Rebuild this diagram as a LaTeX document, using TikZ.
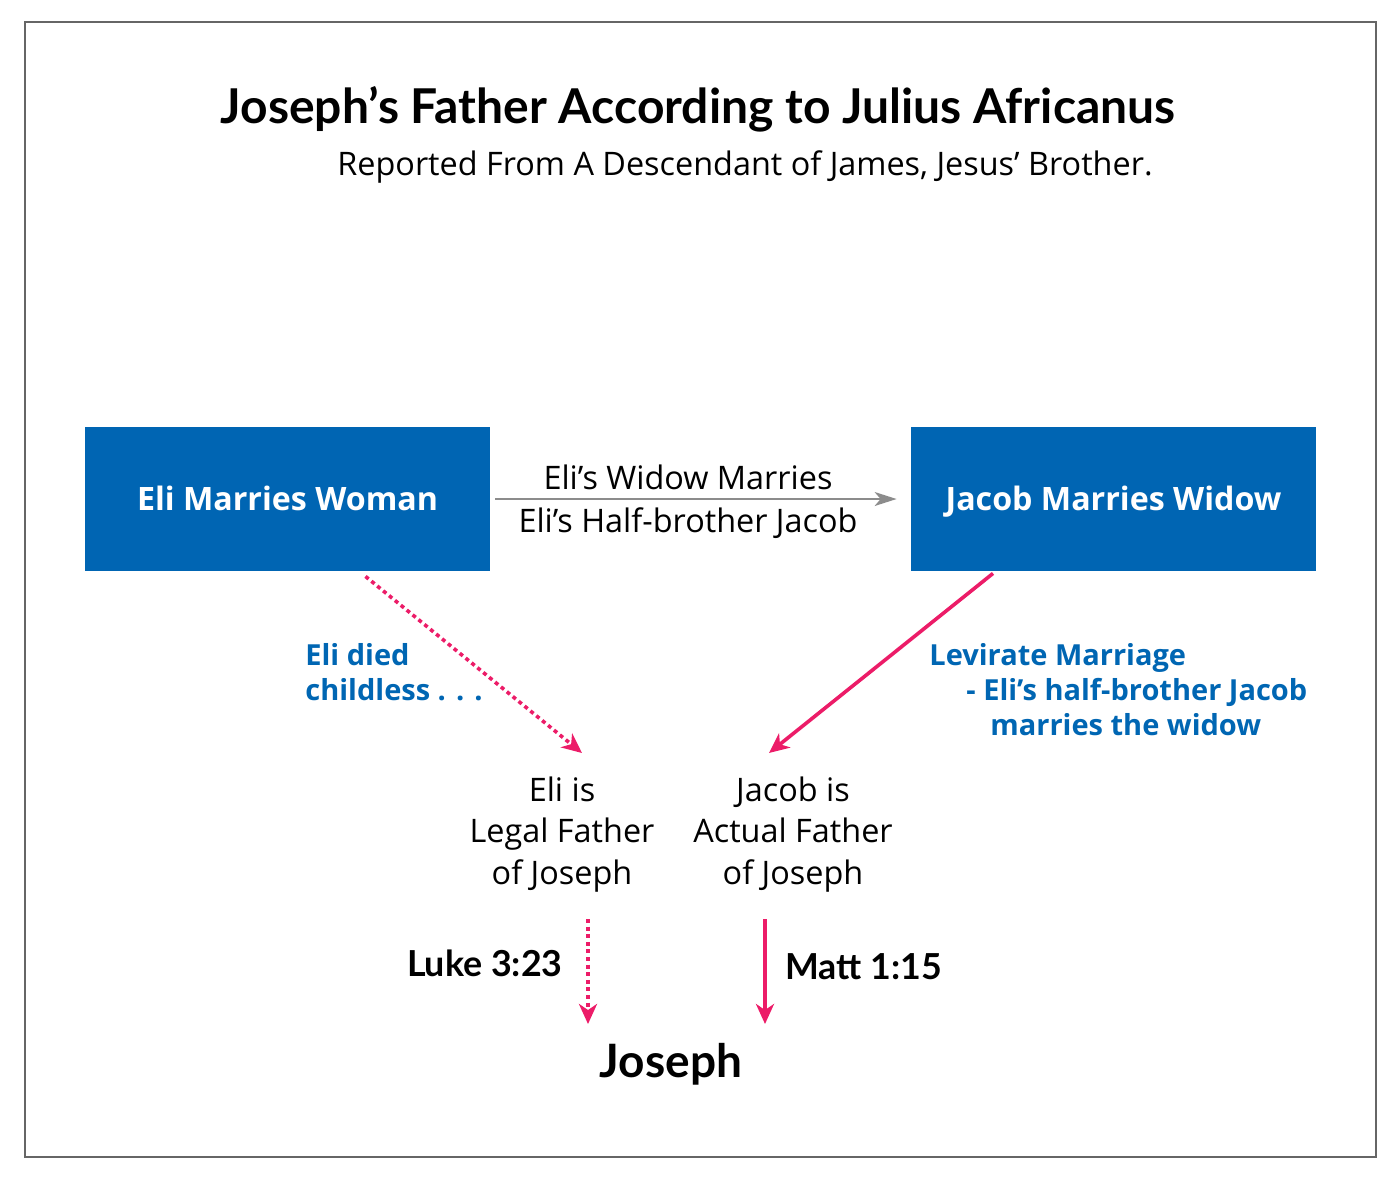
\documentclass[tikz,border=0pt]{standalone}
\usepackage{fontspec}
\setmainfont{Open Sans}
\newfontfamily\latofont{Lato}
\usetikzlibrary{arrows.meta,positioning,calc}
\definecolor{boxblue}{HTML}{0065B3}
\definecolor{arrowpink}{HTML}{EC1C68}
\definecolor{labelblue}{HTML}{0066B3}

\begin{document}
\begin{tikzpicture}[x=0.5pt,y=-0.5pt,
	bluebox/.style={fill=boxblue, text=white, minimum width=202.5pt, minimum height=72pt, inner sep=0pt, text height=14pt, text depth=3pt, font=\fontsize{16.1}{18}\selectfont\bfseries},
	blacktext/.style={font=\fontsize{16.2}{20.75}\selectfont, align=center, inner sep=0pt},
	bluenote/.style={text=labelblue, font=\fontsize{14.5}{17.5}\selectfont\bfseries, align=left, inner sep=0pt},
	verse/.style={font=\latofont\bfseries\fontsize{17.9}{20}\selectfont, inner sep=0pt},
	pinkline/.style={arrowpink, line width=1.8pt, -{Stealth[length=10pt,width=9pt,inset=3pt]}},
	dotline/.style={pinkline, dash pattern=on 2pt off 1.8pt}]
			\useasboundingbox (0,0) rectangle (1400,1179);
			\draw[gray!80!black, line width=0.6pt] (25,22) rectangle (1376,1157);
			\node[anchor=base, inner sep=0pt, font=\latofont\bfseries\fontsize{24}{28}\selectfont] (title) at (698,123) {Joseph’s Father According to Julius Africanus};
			\node[anchor=base, blacktext] (sub) at (745,175) {Reported From A Descendant of James, Jesus’ Brother.};
			\node[bluebox] (eli) at (287.5,499) {Eli Marries Woman};
			\node[bluebox] (jacob) at (1113.5,499) {Jacob Marries Widow};
			\draw[gray!90, line width=0.75pt, -{Stealth[length=11pt,width=7pt,inset=3pt]}, shorten <=2.5pt, shorten >=7pt] (eli) -- (jacob);
			\node[anchor=base, blacktext] (wed1) at (688,489) {Eli’s Widow Marries};
			\node[anchor=base, blacktext] (wed2) at (688,532) {Eli’s Half-brother Jacob};
			\node[anchor=base west, bluenote] (died) at (305,700) {Eli died\\childless . . .};
			\node[anchor=base west, bluenote] (levir) at (929,735) {Levirate Marriage\\\hspace*{18.5pt}- Eli’s half-brother Jacob\\\hspace*{30.5pt}marries the widow};
			\node[anchor=base, blacktext] (legal) at (562,884) {Eli is\\Legal Father\\of Joseph};
			\node[anchor=base, blacktext] (actual) at (793,884) {Jacob is\\Actual Father\\of Joseph};
			\node[anchor=base east, verse] (luke) at (563,976) {Luke 3:23};
			\node[anchor=base west, verse] (matt) at (785,979) {Matt 1:15};
			\node[anchor=base, inner sep=0pt, font=\latofont\bfseries\fontsize{23}{26}\selectfont] (joseph) at (671,1077) {Joseph};
			\coordinate (legaltip) at (582,753);
			\coordinate (actualtip) at (769,753);
			\coordinate (lukeup) at (588,919);
			\coordinate (lukedown) at (588,1024);
			\coordinate (mattup) at (765,919);
			\coordinate (mattdown) at (765,1024);
			\draw[dotline] ($(eli.south)+(78,5)$) -- (legaltip);
			\draw[pinkline] ($(jacob.south)+(-120.5,2)$) -- (actualtip);
			\draw[dotline] (lukeup) -- (lukedown);
			\draw[pinkline] (mattup) -- (mattdown);
		\end{tikzpicture}
\end{document}
